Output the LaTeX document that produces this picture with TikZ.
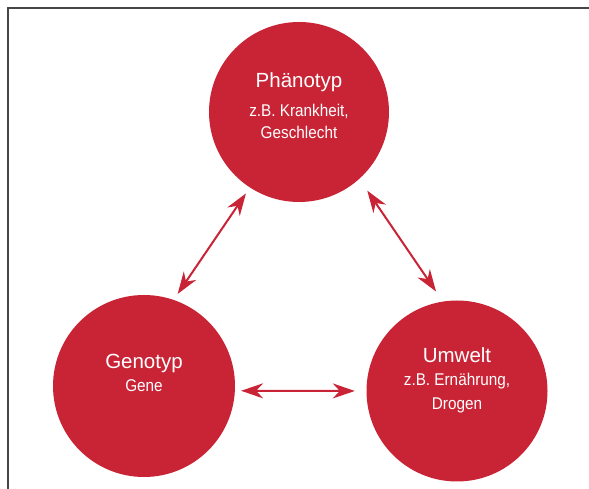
\documentclass[tikz,border=0pt]{standalone}
\usepackage{fontspec}
\setmainfont{Liberation Sans}
\newfontfamily\subfont{Liberation Sans}[FakeStretch=0.9]
\usetikzlibrary{arrows.meta}
\definecolor{crimson}{RGB}{200,36,54}
\definecolor{framegray}{RGB}{70,70,70}
\tikzset{
  blob/.style={circle, fill=crimson, draw=none, inner sep=0pt},
  ttl/.style={text=white, font=\fontsize{20.5}{24}\selectfont, anchor=base, inner sep=0pt},
  sub/.style={text=white, font=\subfont\fontsize{17}{20}\selectfont, anchor=base, inner sep=0pt},
  link/.style={crimson, line width=2pt, {Stealth[length=22pt,width=15pt,inset=7pt]}-{Stealth[length=22pt,width=15pt,inset=7pt]}},
  frameline/.style={framegray, line width=1.1pt}
}
\begin{document}
\begin{tikzpicture}[x=1pt,y=1pt]
\useasboundingbox (0,0) rectangle (589,489);
% frame
\coordinate (fbl) at (8,0);
\coordinate (ftl) at (8,481);
\coordinate (ftr) at (589,481);
\draw[frameline] (fbl) -- (ftl) -- (ftr);
% circles
\node[blob, minimum size=180pt] (phen) at (299,377) {};
\node[blob, minimum size=182pt] (geno) at (144,103) {};
\node[blob, minimum size=181pt] (umw) at (457,98) {};
% texts
\node[ttl] (phen1) at ([yshift=24pt]phen.center) {Phänotyp};
\node[sub] (phen2) at ([yshift=-4.5pt]phen.center) {z.B. Krankheit,};
\node[sub] (phen3) at ([yshift=-26.3pt]phen.center) {Geschlecht};
\node[ttl] (geno1) at ([yshift=17.7pt]geno.center) {Genotyp};
\node[sub] (geno2) at ([yshift=-5.7pt]geno.center) {Gene};
\node[ttl] (umw1) at ([yshift=28pt]umw.center) {Umwelt};
\node[sub] (umw2) at ([yshift=5pt]umw.center) {z.B. Ernährung,};
\node[sub] (umw3) at ([yshift=-19pt]umw.center) {Drogen};
% arrows
\draw[link, shorten <=7pt, shorten >=7pt] (geno.71.6) -- (phen.237.3);
\draw[link, shorten <=14pt, shorten >=12pt] (phen.312.3) -- (umw.99);
\draw[link, shorten <=6pt, shorten >=11.5pt] (geno.357) -- (umw.180);
\end{tikzpicture}
\end{document}
